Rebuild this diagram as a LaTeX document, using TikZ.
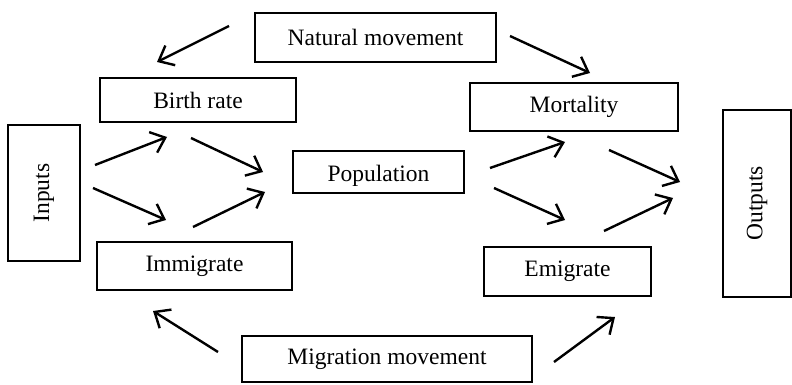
\documentclass[tikz,border=0pt]{standalone}
\usepackage{fontspec}
\setmainfont{Liberation Serif}
\usetikzlibrary{arrows.meta}
\begin{document}
\begin{tikzpicture}[x=1pt,y=-1pt,
  box/.style={draw, line width=1.6pt, inner sep=0pt, font=\fontsize{23.5}{28}\selectfont},
  flow/.style={line width=2.4pt, -{Straight Barb[length=13pt,width=22pt,line width=2.4pt]}}]
\useasboundingbox (0,0) rectangle (792,385);

% boxes
\node[box, minimum width=241pt, minimum height=49pt] (nat) at (375.5,37.5) {Natural movement};
\node[box, minimum width=196pt, minimum height=44pt] (birth) at (198,100) {Birth rate};
\node[box, minimum width=72pt, minimum height=136pt] (inp) at (44,193) {};
\node[font=\fontsize{23.5}{28}\selectfont, rotate=90] (inptxt) at (inp.center) {Inputs};
\node[box, minimum width=171pt, minimum height=42pt] (pop) at (378.5,172) {};
\node[font=\fontsize{23.5}{28}\selectfont] (poptxt) at (378.5,176) {Population};
\node[box, minimum width=208pt, minimum height=48pt] (mort) at (574,107) {Mortality};
\node[box, minimum width=68pt, minimum height=187pt] (out) at (757,203.5) {};
\node[font=\fontsize{23.5}{28}\selectfont, rotate=90] (outtxt) at (out.center) {Outputs};
\node[box, minimum width=195pt, minimum height=48pt] (imm) at (194.5,266) {Immigrate};
\node[box, minimum width=167pt, minimum height=49pt] (emi) at (567.5,271.5) {Emigrate};
\node[box, minimum width=290pt, minimum height=46pt] (mig) at (387,359) {Migration movement};

% arrow end points
\coordinate (a1s) at (229,26);  \coordinate (a1e) at (157,62);
\coordinate (a2s) at (510,36);  \coordinate (a2e) at (590,73);
\coordinate (a3s) at (95,165);  \coordinate (a3e) at (167,137);
\coordinate (a4s) at (191,138); \coordinate (a4e) at (263,172);
\coordinate (a5s) at (93,188);  \coordinate (a5e) at (166,220);
\coordinate (a6s) at (193,227); \coordinate (a6e) at (265,192);
\coordinate (a7s) at (490,168); \coordinate (a7e) at (565,142);
\coordinate (a8s) at (494,188); \coordinate (a8e) at (565,220);
\coordinate (a9s) at (609,150); \coordinate (a9e) at (680,182);
\coordinate (a10s) at (604,231); \coordinate (a10e) at (673,198);
\coordinate (a11s) at (218,352); \coordinate (a11e) at (153,311);
\coordinate (a12s) at (554,362); \coordinate (a12e) at (615,317);

% flows
\foreach \i in {1,...,12} \draw[flow] (a\i s) -- (a\i e);
\end{tikzpicture}
\end{document}
